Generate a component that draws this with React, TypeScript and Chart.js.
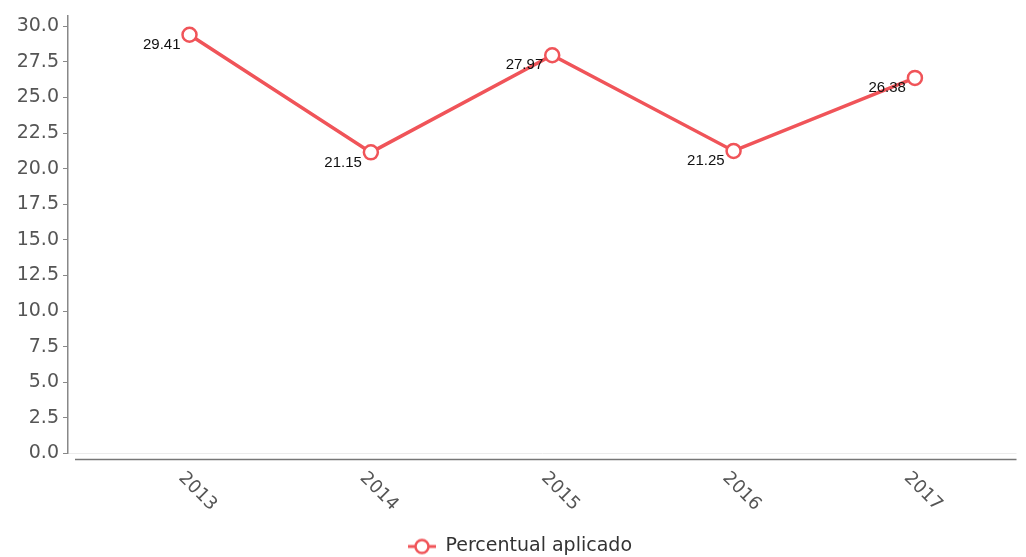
import React, { useEffect, useRef } from "react";
import { Chart, registerables } from "chart.js";

Chart.register(...registerables);

const years: number[] = [2013, 2014, 2015, 2016, 2017];
const values: number[] = [29.41, 21.15, 27.97, 21.25, 26.38];
const seriesName = "Percentual aplicado";
const yMin = 0;
const yTop = 30;
const yStep = 2.5;

const RED = "rgb(240,84,89)";
const FONT = "'DejaVu Sans', Verdana, sans-serif";

function makeLegendIcon(): HTMLCanvasElement {
  const c = document.createElement("canvas");
  c.width = 48;
  c.height = 18;
  const g = c.getContext("2d")!;
  g.strokeStyle = RED;
  g.lineWidth = 3;
  g.beginPath();
  g.moveTo(20, 9);
  g.lineTo(48, 9);
  g.stroke();
  g.beginPath();
  g.arc(34, 9, 6.5, 0, Math.PI * 2);
  g.fillStyle = "#fff";
  g.fill();
  g.lineWidth = 2.5;
  g.stroke();
  return c;
}

const extrasPlugin = {
  id: "extras",
  afterDraw(chart: any) {
    const { ctx, chartArea } = chart;
    const xs = chart.scales.x;
    ctx.save();
    // detached x axis line
    ctx.strokeStyle = "#777";
    ctx.lineWidth = 1.5;
    ctx.beginPath();
    ctx.moveTo(chartArea.left + 7, chartArea.bottom + 6);
    ctx.lineTo(chartArea.right, chartArea.bottom + 6);
    ctx.stroke();
    // rotated x labels
    ctx.fillStyle = "#555";
    ctx.font = `18px ${FONT}`;
    ctx.textAlign = "center";
    ctx.textBaseline = "middle";
    years.forEach((yr) => {
      const px = xs.getPixelForValue(yr);
      ctx.save();
      ctx.translate(px + 8, chartArea.bottom + 38);
      ctx.rotate(Math.PI / 4);
      ctx.fillText(String(yr), 0, 0);
      ctx.restore();
    });
    ctx.restore();
  },
  afterDatasetsDraw(chart: any) {
    const { ctx } = chart;
    const meta = chart.getDatasetMeta(0);
    ctx.save();
    ctx.fillStyle = "#111";
    ctx.font = "15px 'Liberation Sans', Arial, sans-serif";
    ctx.textAlign = "right";
    ctx.textBaseline = "middle";
    meta.data.forEach((pt: any, i: number) => {
      ctx.fillText(values[i].toFixed(2), pt.x - 9, pt.y + 10);
    });
    ctx.restore();
  },
};

export default function App() {
  const ref = useRef<HTMLCanvasElement>(null);
  useEffect(() => {
    const icon = makeLegendIcon();
    const chart = new Chart(ref.current!, {
      type: "line",
      data: {
        datasets: [
          {
            label: seriesName,
            data: years.map((y, i) => ({ x: y, y: values[i] })),
            borderColor: RED,
            backgroundColor: "#fff",
            borderWidth: 3.5,
            pointRadius: 7,
            pointBorderWidth: 2.5,
            pointBackgroundColor: "#fff",
            pointBorderColor: RED,
            tension: 0,
          },
        ],
      },
      options: {
        responsive: false,
        animation: false,
        events: [],
        layout: { padding: { top: 12, right: 6, left: 0, bottom: -9 } },
        scales: {
          x: {
            type: "linear",
            min: years[0] - 0.67,
            max: years[years.length - 1] + 0.56,
            afterFit: (s: any) => {
              s.height = 82.5;
            },
            ticks: { display: false, stepSize: 1 },
            grid: { display: false },
            border: { display: false },
          },
          y: {
            min: yMin,
            max: yTop + 0.77,
            afterFit: (s: any) => {
              s.width = 68;
            },
            ticks: {
              stepSize: yStep,
              includeBounds: false,
              callback: (v: any) => Number(v).toFixed(1),
              color: "#555",
              font: { family: FONT, size: 19 },
              padding: 4,
            },
            grid: {
              color: (c: any) => (c.tick && c.tick.value === 0 ? "#ececec" : "rgba(0,0,0,0)"),
              tickColor: "#888",
              tickLength: 5,
            },
            border: { display: true, color: "#888", width: 1.5 },
          },
        },
        plugins: {
          tooltip: { enabled: false },
          legend: {
            display: true,
            position: "bottom",
            labels: {
              usePointStyle: true,
              pointStyleWidth: 48,
              padding: 1,
              color: "#333",
              font: { family: FONT, size: 19 },
              generateLabels: () => [
                {
                  text: seriesName,
                  pointStyle: icon as any,
                  fillStyle: "#fff",
                  strokeStyle: RED,
                  lineWidth: 0,
                  hidden: false,
                  datasetIndex: 0,
                  fontColor: "#333",
                } as any,
              ],
            },
          },
        },
      },
      plugins: [extrasPlugin],
    } as any);
    return () => chart.destroy();
  }, []);
  return (
    <div style={{ position: "absolute", left: 0, top: 0, width: 1026, height: 557, background: "#fff" }}>
      <canvas ref={ref} width={1026} height={557} style={{ display: "block" }} />
    </div>
  );
}
